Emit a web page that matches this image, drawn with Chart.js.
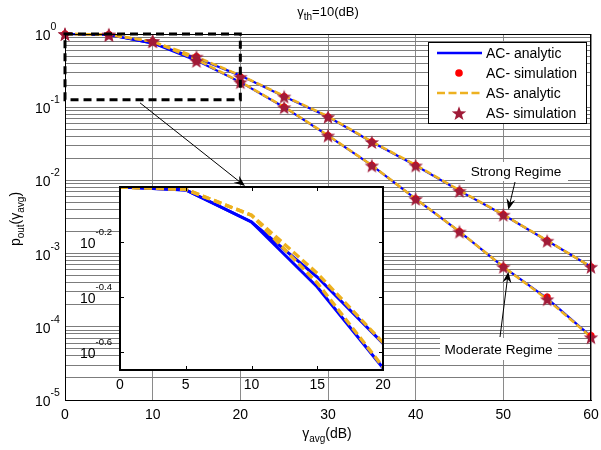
<!DOCTYPE html>
<html><head><meta charset="utf-8">
<script src="https://cdn.jsdelivr.net/npm/chart.js@4"></script>
<style>
html,body{margin:0;padding:0;background:#fff;}
#wrap{position:relative;width:601px;height:450px;overflow:hidden;}
#main{position:absolute;left:0;top:0;}
#inset{position:absolute;left:60px;top:180px;}
</style></head><body>
<div id="wrap"><canvas id="main" width="601" height="450"></canvas><canvas id="inset" width="335" height="215"></canvas></div>
<script>
// ---------- data ----------
const snrDb = [0, 5, 10, 15, 20, 25, 30, 35, 40, 45, 50, 55, 60];
const strongAC   = [1, 0.975, 0.746, 0.471, 0.270, 0.140, 0.074, 0.0335, 0.0160, 0.0072, 0.0034, 0.00150, 0.00066];
const strongAS   = [1, 0.980, 0.790, 0.486, 0.272, 0.142, 0.075, 0.0338, 0.0162, 0.0073, 0.0034, 0.00151, 0.00066];
const moderateAC = [1, 0.975, 0.746, 0.433, 0.220, 0.100, 0.041, 0.0160, 0.0056, 0.0020, 0.00066, 0.000245, 0.0000740];
const moderateAS = [1, 0.980, 0.790, 0.448, 0.222, 0.101, 0.0412, 0.0161, 0.0056, 0.0020, 0.00066, 0.000238, 0.0000724];
const strongACSim   = [1, 0.98, 0.79, 0.49, 0.26, 0.140, 0.074, 0.0335, 0.0160, 0.0072, 0.0034, 0.00150, 0.00066];
const moderateACSim = [1, 0.98, 0.79, 0.43, 0.22, 0.100, 0.041, 0.0160, 0.0056, 0.0020, 0.00066, 0.000255, 0.0000760];
const strongASSim   = [1, 0.98, 0.80, 0.49, 0.26, 0.140, 0.074, 0.0335, 0.0160, 0.0072, 0.0034, 0.00150, 0.00066];
const moderateASSim = [1, 0.98, 0.80, 0.43, 0.22, 0.100, 0.041, 0.0160, 0.0056, 0.0020, 0.00066, 0.000238, 0.0000720];
const xTickLabels = ['0', '10', '20', '30', '40', '50', '60'];
const yTickExps = ['0', '-1', '-2', '-3', '-4', '-5'];
const insetX = [0, 5, 10, 15, 20];
const insetXTickLabels = ['0', '5', '10', '15', '20'];
const insetYTickExps = ['-0.2', '-0.4', '-0.6'];
const legendLabels = ['AC- analytic', 'AC- simulation', 'AS- analytic', 'AS- simulation'];

// ---------- styling ----------
const FONT = "'Liberation Sans', Arial, sans-serif";
const BLUE = '#0000ff', ORANGE = '#edb120', RED = '#ff0000', STAR = '#a01b38';
const pts = (xs, ys) => xs.map((x, i) => ({x, y: ys[i]}));

function makeStar(rOut, rIn) {
  const s = Math.ceil(rOut * 2 + 2);
  const c = document.createElement('canvas'); c.width = s; c.height = s;
  const g = c.getContext('2d'); g.fillStyle = STAR; g.beginPath();
  for (let k = 0; k < 10; k++) {
    const r = k % 2 ? rIn : rOut; const a = -Math.PI / 2 + k * Math.PI / 5;
    g.lineTo(s / 2 + r * Math.cos(a), s / 2 + 0.8 + r * Math.sin(a));
  }
  g.closePath(); g.fill(); return c;
}
const starImg = makeStar(7.6, 3.1);
const starLegend = makeStar(7.6, 3.1);

function drawRich(ctx, parts, x, y, align) {
  let w = 0;
  parts.forEach(p => { ctx.font = p.s + 'px ' + FONT; p.w = ctx.measureText(p.t).width; w += p.w; });
  let cx = align === 'center' ? x - w / 2 : align === 'right' ? x - w : x;
  ctx.textAlign = 'left'; ctx.textBaseline = 'alphabetic';
  parts.forEach(p => { ctx.font = p.s + 'px ' + FONT; ctx.fillText(p.t, cx, y + (p.dy || 0)); cx += p.w; });
}
function drawArrow(ctx, x1, y1, x2, y2, len, half) {
  const a = Math.atan2(y2 - y1, x2 - x1);
  ctx.beginPath(); ctx.moveTo(x1, y1); ctx.lineTo(x2 - Math.cos(a) * len * 0.6, y2 - Math.sin(a) * len * 0.6); ctx.stroke();
  ctx.beginPath(); ctx.moveTo(x2, y2);
  ctx.lineTo(x2 - len * Math.cos(a) + half * Math.sin(a), y2 - len * Math.sin(a) - half * Math.cos(a));
  ctx.lineTo(x2 - len * 0.65 * Math.cos(a), y2 - len * 0.65 * Math.sin(a));
  ctx.lineTo(x2 - len * Math.cos(a) - half * Math.sin(a), y2 - len * Math.sin(a) + half * Math.cos(a));
  ctx.closePath(); ctx.fill();
}
function logTicks(lo, hi) {
  const t = [];
  for (let e = lo; e < hi; e++) for (let m = 1; m < 10; m++) t.push({value: m * Math.pow(10, e)});
  t.push({value: Math.pow(10, hi)});
  return t;
}

// ---------- main chart ----------
const lineDs = (label, data, color, dash, order) => ({
  label, data: pts(snrDb, data), borderColor: color, borderWidth: dash ? 2.6 : 2.2, borderDash: dash || [],
  pointRadius: 0, showLine: true, fill: false, tension: 0, order, clip: false
});
const simDs = (label, data, style, order) => ({
  label, data: pts(snrDb, data), showLine: false, pointStyle: style, pointRadius: style === 'circle' ? 3.6 : 5,
  pointBackgroundColor: RED, pointBorderColor: RED, pointBorderWidth: 0, order, clip: false
});

const mainPlugin = {
  id: 'mainDecor',
  afterDraw(chart) {
    const {ctx, chartArea: ca, scales: {x, y}} = chart;
    ctx.save();
    // box
    ctx.strokeStyle = '#000'; ctx.lineWidth = 1;
    ctx.strokeRect(ca.left + 0.5, ca.top + 0.5, ca.right - ca.left - 1, ca.bottom - ca.top);
    ctx.fillStyle = '#000';
    // y tick labels
    yTickExps.forEach(e => {
      const py = y.getPixelForValue(Math.pow(10, Number(e)));
      drawRich(ctx, [{t: '10', s: 14, dy: 6}, {t: e, s: 10.5, dy: -4}], 35, py, 'left');
    });
    // x tick labels
    ctx.font = '14px ' + FONT; ctx.textAlign = 'center'; ctx.textBaseline = 'alphabetic';
    xTickLabels.forEach(l => ctx.fillText(l, x.getPixelForValue(Number(l)), 419));
    // titles
    drawRich(ctx, [{t: 'γ', s: 13}, {t: 'th', s: 10, dy: 4}, {t: '=10(dB)', s: 13}], 328, 16, 'center');
    drawRich(ctx, [{t: 'γ', s: 14}, {t: 'avg', s: 10, dy: 4}, {t: '(dB)', s: 14}], 327, 438, 'center');
    ctx.save(); ctx.translate(20, 219); ctx.rotate(-Math.PI / 2);
    drawRich(ctx, [{t: 'p', s: 14}, {t: 'out', s: 10, dy: 4}, {t: '(', s: 14}, {t: 'γ', s: 14}, {t: 'avg', s: 10, dy: 4}, {t: ')', s: 14}], 0, 0, 'center');
    ctx.restore();
    // zoom box
    const bx0 = x.getPixelForValue(0), bx1 = x.getPixelForValue(20);
    const by0 = y.getPixelForValue(1), by1 = y.getPixelForValue(0.126);
    ctx.setLineDash([8, 5]); ctx.lineWidth = 3; ctx.strokeStyle = '#000';
    ctx.strokeRect(bx0, by0, bx1 - bx0, by1 - by0);
    ctx.setLineDash([]);
    // arrow to inset
    ctx.lineWidth = 1;
    drawArrow(ctx, 140, by1 + 3, 245, 186, 11, 4.5);
    // regime annotations
    const sx = x.getPixelForValue(50), sy = y.getPixelForValue(strongAS[10]);
    const mx = x.getPixelForValue(50), my = y.getPixelForValue(moderateAS[10]);
    drawArrow(ctx, 515, 182, sx + 5, sy - 5, 11, 4.5);
    drawArrow(ctx, 500, 337, mx + 5, my + 5, 11, 4.5);
    ctx.fillStyle = '#fff';
    ctx.fillRect(465, 162, 103, 19);
    ctx.fillRect(440, 338, 118, 22);
    ctx.fillStyle = '#000'; ctx.font = '13.6px ' + FONT; ctx.textAlign = 'center';
    ctx.fillText('Strong Regime', 516, 176);
    ctx.fillText('Moderate Regime', 498.5, 354);
    // legend
    ctx.fillStyle = '#fff'; ctx.fillRect(428, 42, 159, 82);
    ctx.strokeStyle = '#000'; ctx.lineWidth = 1; ctx.strokeRect(428.5, 42.5, 158, 81);
    const rows = [53, 73, 93, 113];
    ctx.lineWidth = 2.6; ctx.strokeStyle = BLUE;
    ctx.beginPath(); ctx.moveTo(437, rows[0]); ctx.lineTo(482, rows[0]); ctx.stroke();
    ctx.fillStyle = RED; ctx.beginPath(); ctx.arc(459, rows[1], 3.8, 0, Math.PI * 2); ctx.fill();
    ctx.strokeStyle = ORANGE; ctx.setLineDash([8, 3.5]);
    ctx.beginPath(); ctx.moveTo(437, rows[2]); ctx.lineTo(482, rows[2]); ctx.stroke(); ctx.setLineDash([]);
    ctx.drawImage(starLegend, 459 - starLegend.width / 2, rows[3] - starLegend.height / 2);
    ctx.fillStyle = '#000'; ctx.font = '14px ' + FONT; ctx.textAlign = 'left';
    legendLabels.forEach((l, i) => ctx.fillText(l, 486, rows[i] + 5));
    ctx.restore();
  }
};

new Chart(document.getElementById('main'), {
  type: 'scatter',
  data: {datasets: [
    lineDs('AC- analytic strong', strongAC, BLUE, null, 5),
    lineDs('AC- analytic moderate', moderateAC, BLUE, null, 5),
    lineDs('AS- analytic strong', strongAS, ORANGE, [7, 3], 4),
    lineDs('AS- analytic moderate', moderateAS, ORANGE, [7, 3], 4),
    simDs('AC- simulation strong', strongACSim, 'circle', 3),
    simDs('AC- simulation moderate', moderateACSim, 'circle', 3),
    simDs('AS- simulation strong', strongASSim, starImg, 1),
    simDs('AS- simulation moderate', moderateASSim, starImg, 1)
  ]},
  options: {
    responsive: false, animation: false, events: [],
    layout: {padding: {left: 0, right: 10, top: 34, bottom: 0}},
    plugins: {legend: {display: false}, tooltip: {enabled: false}},
    scales: {
      x: {type: 'linear', min: 0, max: 60, ticks: {display: false, stepSize: 10},
          grid: {color: '#8a8a8a', lineWidth: 1, drawTicks: false}, border: {color: '#000'},
          afterFit(s) { s.height = 50; }},
      y: {type: 'logarithmic', min: 1e-5, max: 1, ticks: {display: false},
          grid: {color: '#7c7c7c', lineWidth: 1, drawTicks: false}, border: {color: '#000'},
          afterBuildTicks(s) { s.ticks = logTicks(-5, 0); },
          afterFit(s) { s.width = 65; }}
    }
  },
  plugins: [mainPlugin]
});

// ---------- inset chart ----------
const n = insetX.length;
const insetLine = (label, data, color, dash) => ({
  label, data: pts(insetX, data.slice(0, n)), borderColor: color, borderWidth: dash ? 3.4 : 3,
  borderDash: dash || [], pointRadius: 0, showLine: true, tension: 0, order: dash ? 1 : 2
});
const insetPlugin = {
  id: 'insetDecor',
  beforeDraw(chart) {
    const {ctx, chartArea: ca} = chart;
    ctx.save(); ctx.fillStyle = '#fff';
    ctx.fillRect(ca.left, ca.top, ca.right - ca.left, ca.bottom - ca.top); ctx.restore();
  },
  afterDraw(chart) {
    const {ctx, chartArea: ca, scales: {x, y}} = chart;
    ctx.save();
    ctx.strokeStyle = '#000'; ctx.lineWidth = 1;
    insetXTickLabels.slice(1, -1).forEach(l => {
      const px = Math.round(x.getPixelForValue(Number(l))) + 0.5;
      ctx.beginPath(); ctx.moveTo(px, ca.bottom); ctx.lineTo(px, ca.bottom - 4);
      ctx.moveTo(px, ca.top); ctx.lineTo(px, ca.top + 4); ctx.stroke();
    });
    insetYTickExps.forEach(e => {
      const py = Math.round(y.getPixelForValue(Math.pow(10, Number(e)))) + 0.5;
      ctx.beginPath(); ctx.moveTo(ca.left, py); ctx.lineTo(ca.left + 4, py);
      ctx.moveTo(ca.right, py); ctx.lineTo(ca.right - 4, py); ctx.stroke();
    });
    ctx.lineWidth = 2;
    ctx.strokeRect(ca.left, ca.top, ca.right - ca.left, ca.bottom - ca.top);
    ctx.fillStyle = '#000';
    insetYTickExps.forEach(e => {
      const py = y.getPixelForValue(Math.pow(10, Number(e)));
      drawRich(ctx, [{t: '10', s: 14, dy: 6}, {t: e, s: 9.5, dy: -7}], 20, py, 'left');
    });
    ctx.font = '14px ' + FONT; ctx.textAlign = 'center'; ctx.textBaseline = 'alphabetic';
    insetXTickLabels.forEach(l => ctx.fillText(l, x.getPixelForValue(Number(l)), 209));
    ctx.restore();
  }
};
new Chart(document.getElementById('inset'), {
  type: 'scatter',
  data: {datasets: [
    insetLine('AC- analytic strong', strongAC, BLUE, null),
    insetLine('AC- analytic moderate', moderateAC, BLUE, null),
    insetLine('AS- analytic strong', strongAS, ORANGE, [8, 4]),
    insetLine('AS- analytic moderate', moderateAS, ORANGE, [8, 4])
  ]},
  options: {
    responsive: false, animation: false, events: [],
    layout: {padding: {left: 0, right: 12, top: 7, bottom: 0}},
    plugins: {legend: {display: false}, tooltip: {enabled: false}},
    scales: {
      x: {type: 'linear', min: 0, max: 20, ticks: {display: false}, grid: {display: false}, border: {display: false},
          afterFit(s) { s.height = 25; }},
      y: {type: 'logarithmic', min: Math.pow(10, -0.665), max: 1, ticks: {display: false}, grid: {display: false}, border: {display: false},
          afterBuildTicks(s) { s.ticks = insetYTickExps.map(e => ({value: Math.pow(10, Number(e))})); },
          afterFit(s) { s.width = 60; }}
    }
  },
  plugins: [insetPlugin]
});
</script>
</body></html>
